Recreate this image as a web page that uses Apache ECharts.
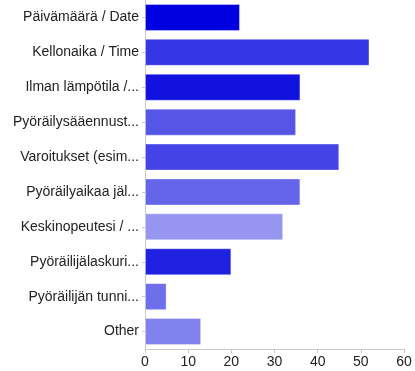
<!DOCTYPE html>
<html>
<head>
    <meta charset="utf-8">
    <title>ECharts</title>
    <script src="https://cdn.jsdelivr.net/npm/echarts@6/dist/echarts.min.js"></script>
</head>
<body style="margin:0;background:#fff;">
    <div id="main" style="width:415px;height:371px;"></div>
    <script type="text/javascript">

var categories = [
    'Päivämäärä / Date',
    'Kellonaika / Time',
    'Ilman lämpötila /...',
    'Pyöräilysääennust...',
    'Varoitukset (esim...',
    'Pyöräilyaikaa jäl...',
    'Keskinopeutesi / ...',
    'Pyöräilijälaskuri...',
    'Pyöräilijän tunni...',
    'Other'
];
var counts = [22, 52, 36, 35, 45, 36, 32, 20, 5, 13];
var barColors = ['#0000e0', '#3636e4', '#1111e0', '#5656e6', '#4444e6',
                 '#6565e9', '#9696f0', '#2020e0', '#6f6fea', '#8282ee'];
var xTicks = [0, 10, 20, 30, 40, 50, 60];

var myChart = echarts.init(document.getElementById('main'));

var option = {
    animation: false,
    grid: {
        left: 145,
        right: 11,
        top: -2,
        bottom: 22
    },
    xAxis: {
        type: 'value',
        min: xTicks[0],
        max: xTicks[xTicks.length - 1],
        interval: 10,
        axisLine: {show: true, lineStyle: {color: '#c8c8c8'}},
        axisTick: {show: true, length: 4, lineStyle: {color: '#c8c8c8'}},
        axisLabel: {color: '#222', fontSize: 14, fontFamily: 'Liberation Sans', margin: 6},
        splitLine: {show: false}
    },
    yAxis: {
        type: 'category',
        inverse: true,
        data: categories,
        axisLine: {show: true, lineStyle: {color: '#c8c8c8'}},
        axisTick: {show: true, length: 3, alignWithLabel: true, lineStyle: {color: '#c8c8c8'}},
        axisLabel: {color: '#222', fontSize: 14, fontFamily: 'Liberation Sans', margin: 6}
    },
    series: [{
        type: 'bar',
        barWidth: 27,
        data: counts.map(function (v, i) {
            return {value: v, itemStyle: {color: barColors[i]}};
        }),
        itemStyle: {borderColor: 'rgba(255,255,255,0.35)', borderWidth: 1}
    }]
};

myChart.setOption(option);
    </script>
</body>
</html>
